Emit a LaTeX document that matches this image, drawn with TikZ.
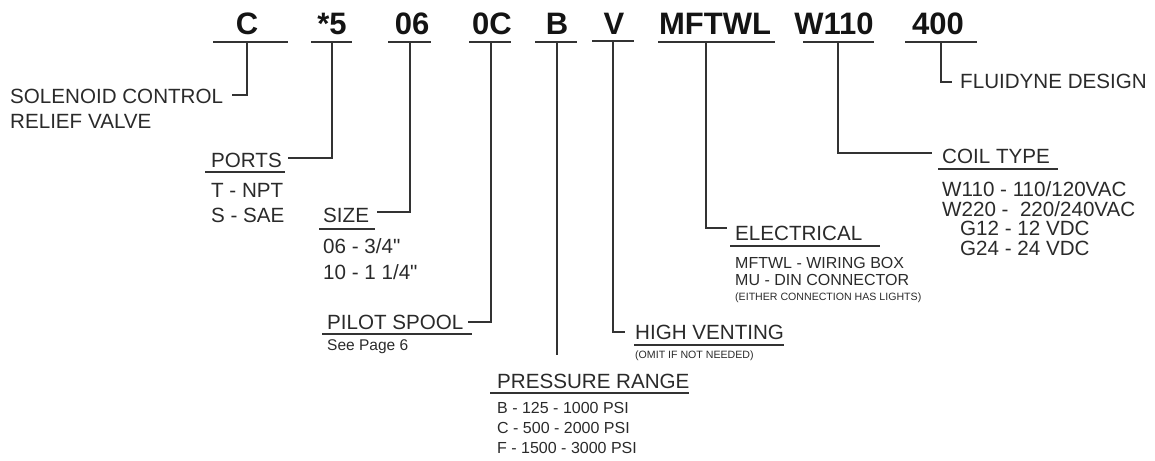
\documentclass[tikz,border=0pt]{standalone}
\usepackage{fontspec}
\setmainfont{Liberation Sans}[Ligatures=TeXOff]
\definecolor{txt}{HTML}{2A2A2A}
\definecolor{ln}{HTML}{333333}
\begin{document}
\begin{tikzpicture}[x=1pt,y=-1pt,
  code/.style={anchor=base,inner sep=0,font=\fontsize{31}{31}\selectfont\bfseries,text=black!92},
  lab/.style={anchor=base west,inner sep=0,font=\fontsize{20.6}{24}\selectfont,text=txt},
  tight/.style={lab,text height=15pt,text depth=0pt},
  sm/.style={anchor=base west,inner sep=0,font=\fontsize{16}{19}\selectfont,text=txt},
  pg/.style={anchor=base west,inner sep=0,font=\fontsize{15.5}{18}\selectfont,text=txt},
  tiny/.style={anchor=base west,inner sep=0,font=\fontsize{10.6}{12}\selectfont,text=txt},
  rule/.style={line width=1.7pt,draw=ln},
  conn/.style={line width=1.6pt,draw=ln}]
\useasboundingbox (0,0) rectangle (1155,460);
% code letters
\node[code] (kC) at (247,35) {C};
\node[code] (k5) at (332,35) {*5};
\node[code] (k06) at (412,35) {06};
\node[code] (k0C) at (492,35) {0C};
\node[code] (kB) at (557,35) {B};
\node[code] (kV) at (614,35) {V};
\node[code] (kM) at (715,35) {MFTWL};
\node[code] (kW) at (834,35) {W110};
\node[code] (k400) at (938,35) {400};
% underlines
\draw[rule] (213,42) -- (288,42);
\draw[rule] (311,42) -- (352,42);
\draw[rule] (388,42) -- (431,42);
\draw[rule] (469,42) -- (511,42);
\draw[rule] (535,42) -- (577,42);
\draw[rule] (592,41) -- (634,41);
\draw[rule] (658,42) -- (775,42);
\draw[rule] (803,42) -- (874,42);
\draw[rule] (905,42) -- (977,42);
% connector start points
\coordinate (uC) at (247,42);
\coordinate (u5) at (332,42);
\coordinate (u06) at (410,42);
\coordinate (u0C) at (491,42);
\coordinate (uB) at (557,42);
\coordinate (uV) at (613,41);
\coordinate (uM) at (706,42);
\coordinate (uW) at (838,42);
\coordinate (u400) at (941,42);
% connector end points
\coordinate (eC) at (232,95);
\coordinate (e5) at (288,158);
\coordinate (e06) at (377,212);
\coordinate (e0C) at (468,322);
\coordinate (eB) at (557,355);
\coordinate (eV) at (625,332);
\coordinate (eM) at (727,228);
\coordinate (eW) at (932,153);
\coordinate (e400) at (952,82);
% labels
\node[lab] (sol1) at (10,103) {SOLENOID CONTROL};
\node[lab] (sol2) at (10,128) {RELIEF VALVE};
\node[lab] (ports) at (211,167) {PORTS};
\draw[rule] (205,172) -- (285,172);
\node[lab] (p1) at (211,197) {T - NPT};
\node[lab] (p2) at (211,222) {S - SAE};
\node[lab] (size) at (323,222) {SIZE};
\draw[rule] (319,229) -- (375,229);
\node[lab] (s1) at (323,253) {06 - 3/4"};
\node[lab] (s2) at (323,279) {10 - 1 1/4"};
\node[lab] (pilot) at (327,329) {PILOT SPOOL};
\draw[rule] (322,334) -- (472,334);
\node[pg] (page) at (327,350) {See Page 6};
\node[lab] (press) at (497,388) {PRESSURE RANGE};
\draw[rule] (490,393) -- (689,393);
\node[sm] (pr1) at (497,413) {B - 125 - 1000 PSI};
\node[sm] (pr2) at (497,433) {C - 500 - 2000 PSI};
\node[sm] (pr3) at (497,453) {F - 1500 - 3000 PSI};
\node[lab] (high) at (635,339) {HIGH VENTING};
\draw[rule] (634,345) -- (784,345);
\node[tiny] (omit) at (635,358) {(OMIT IF NOT NEEDED)};
\node[lab] (elec) at (735,240) {ELECTRICAL};
\draw[rule] (730,246) -- (880,246);
\node[sm] (el1) at (735,268) {MFTWL - WIRING BOX};
\node[sm] (el2) at (735,285) {MU - DIN CONNECTOR};
\node[tiny] (el3) at (735,300) {(EITHER CONNECTION HAS LIGHTS)};
\node[lab] (coil) at (942,163) {COIL TYPE};
\draw[rule] (938,169) -- (1058,169);
\node[tight] (c1) at (942,196) {W110 - 110/120VAC};
\node[tight] (c2) at (942,216) {W220 -\ \ 220/240VAC};
\node[tight] (c3) at (960,235.5) {G12 - 12 VDC};
\node[tight] (c4) at (960,255) {G24 - 24 VDC};
\node[lab] (fluid) at (960,88) {FLUIDYNE DESIGN};
% connectors
\draw[conn] (uC) |- (eC);
\draw[conn] (u5) |- (e5);
\draw[conn] (u06) |- (e06);
\draw[conn] (u0C) |- (e0C);
\draw[conn] (uB) -- (eB);
\draw[conn] (uV) |- (eV);
\draw[conn] (uM) |- (eM);
\draw[conn] (uW) |- (eW);
\draw[conn] (u400) |- (e400);
\end{tikzpicture}
\end{document}
